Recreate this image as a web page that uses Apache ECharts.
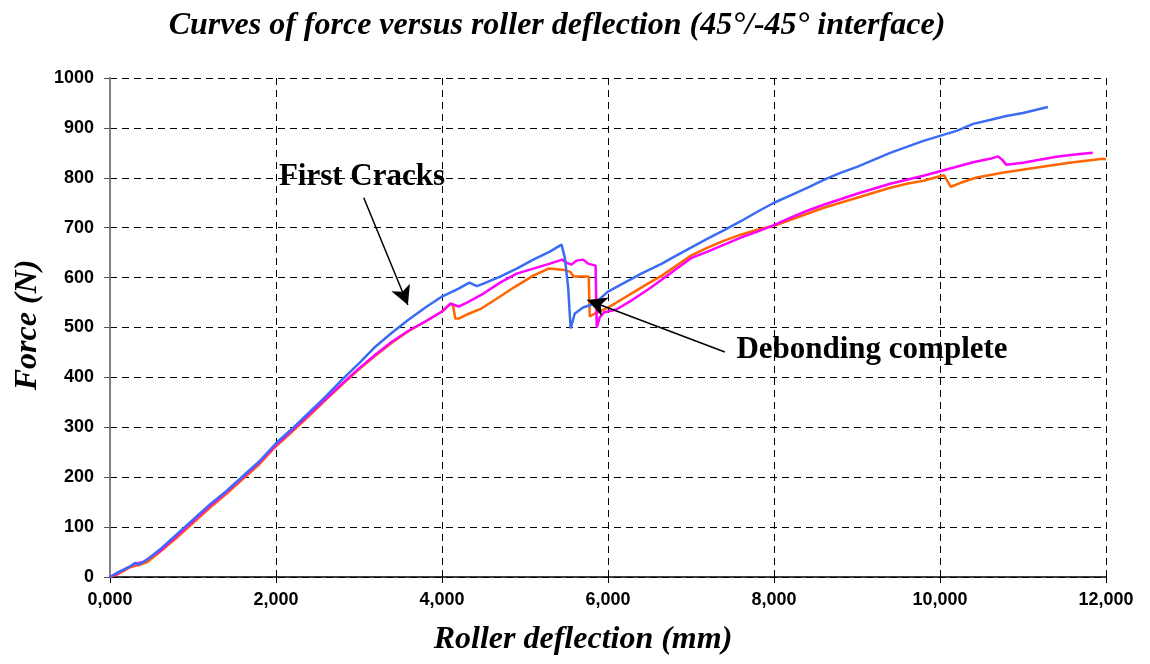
<!DOCTYPE html>
<html>
<head>
<meta charset="utf-8">
<script src="https://cdn.jsdelivr.net/npm/echarts@6/dist/echarts.min.js"></script>
<style>
html,body{margin:0;padding:0;background:#fff;}
#chart{width:1150px;height:664px;}
</style>
</head>
<body>
<div id="chart"></div>
<script>
// ---- data ----
var blueData = [[0,0],[100,10],[250,22],[300,28],[350,25],[450,35],[600,55],[800,85],[1000,115],[1200,145],[1400,172],[1600,202],[1800,232],[2000,268],[2200,298],[2400,330],[2600,362],[2800,396],[3000,428],[3200,462],[3400,490],[3600,516],[3800,540],[4000,562],[4200,578],[4330,590],[4420,583],[4500,588],[4700,602],[4900,618],[5100,636],[5300,652],[5440,666],[5480,640],[5520,580],[5550,498],[5600,528],[5700,540],[5840,548],[6000,572],[6200,590],[6400,608],[6650,628],[6800,642],[7000,660],[7200,678],[7400,695],[7600,713],[7800,732],[8000,750],[8200,765],[8400,780],[8600,796],[8800,810],[9000,822],[9200,836],[9400,850],[9600,862],[9800,874],[10000,884],[10200,894],[10400,908],[10600,916],[10800,924],[11000,930],[11200,938],[11300,942]];
var magentaData = [[0,0],[100,8],[250,22],[300,26],[400,30],[600,52],[800,82],[1000,112],[1200,142],[1400,170],[1600,200],[1800,230],[2000,265],[2200,295],[2400,326],[2600,357],[2800,388],[3000,418],[3200,446],[3400,472],[3600,494],[3800,512],[4000,532],[4100,548],[4200,542],[4300,550],[4500,568],[4700,590],[4900,608],[5100,618],[5300,628],[5450,636],[5500,630],[5560,626],[5620,634],[5700,636],[5760,628],[5850,624],[5865,500],[5900,520],[5950,530],[6100,536],[6300,556],[6500,578],[6650,596],[7000,639],[7200,652],[7400,666],[7600,680],[7800,692],[8000,705],[8200,720],[8400,734],[8600,746],[8800,757],[9000,768],[9200,778],[9400,788],[9600,796],[9800,804],[10000,813],[10200,822],[10400,831],[10600,838],[10700,843],[10750,836],[10800,826],[11000,830],[11200,836],[11400,842],[11600,846],[11840,850]];
var orangeData = [[0,0],[100,6],[250,20],[350,24],[450,30],[600,50],[800,78],[1000,108],[1200,138],[1400,166],[1600,196],[1800,226],[2000,262],[2200,292],[2400,323],[2600,355],[2800,386],[3000,416],[3200,444],[3400,470],[3600,493],[3800,512],[4000,532],[4100,547],[4130,546],[4160,518],[4200,518],[4300,526],[4474,538],[4700,562],[4873,581],[5100,604],[5284,618],[5478,615],[5540,612],[5586,602],[5768,602],[5780,522],[5840,528],[6000,540],[6082,548],[6300,570],[6500,590],[6650,604],[7000,644],[7200,660],[7400,674],[7600,686],[7800,696],[8000,704],[8200,716],[8400,728],[8600,740],[8800,750],[9000,760],[9200,770],[9400,780],[9600,788],[9800,794],[10000,803],[10050,805],[10130,782],[10250,790],[10430,800],[10750,810],[11150,820],[11560,830],[11960,838],[12000,837]];
var xTickLabels = ['0,000','2,000','4,000','6,000','8,000','10,000','12,000'];
var yTickLabels = ['0','100','200','300','400','500','600','700','800','900','1000'];
var titleText = 'Curves of force versus roller deflection (45°/-45° interface)';
var xName = 'Roller deflection (mm)';
var yName = 'Force (N)';
var note1 = 'First Cracks';
var note2 = 'Debonding complete';
var arrow1 = [[3057,760],[3589,545]];
var arrow2 = [[7408,451],[5752,555]];

var chart = echarts.init(document.getElementById('chart'));
var serif = 'Liberation Serif, Times New Roman, serif';
var sans = 'Liberation Sans, Arial, sans-serif';
var gridDash = {color:'#000', width:1, type:[7,5]};

function arrowLine(pts){
  return [{coord:pts[0]},{coord:pts[1]}];
}

chart.setOption({
  animation:false,
  backgroundColor:'#fff',
  grid:{left:110,right:44,top:78,bottom:87,containLabel:false},
  xAxis:{
    type:'value',min:0,max:12000,interval:2000,
    axisLine:{show:true,onZero:false,lineStyle:{color:'#000',width:1.5}},
    axisTick:{show:true,length:6,lineStyle:{color:'#000',width:1}},
    axisLabel:{margin:14,color:'#000',fontFamily:sans,fontWeight:'bold',fontSize:18,
      formatter:function(v){return xTickLabels[Math.round(v/2000)];}},
    splitLine:{show:true,lineStyle:gridDash}
  },
  yAxis:{
    type:'value',min:0,max:1000,interval:100,
    axisLine:{show:true,onZero:false,lineStyle:{color:'#808080',width:2}},
    axisTick:{show:true,length:6,lineStyle:{color:'#555',width:1}},
    axisLabel:{margin:16,color:'#000',fontFamily:sans,fontWeight:'bold',fontSize:18,
      formatter:function(v){return yTickLabels[Math.round(v/100)];}},
    splitLine:{show:true,lineStyle:gridDash}
  },
  series:[
    {type:'line',name:'orange',data:orangeData,showSymbol:false,symbol:'none',
      lineStyle:{color:'#FF6600',width:2.5},z:2},
    {type:'line',name:'magenta',data:magentaData,showSymbol:false,symbol:'none',
      lineStyle:{color:'#FF00FF',width:2.5},z:3},
    {type:'line',name:'blue',data:blueData,showSymbol:false,symbol:'none',
      lineStyle:{color:'#3A6CF4',width:2.5},z:4,
      markLine:{silent:true,symbol:['none','arrow'],symbolSize:[15,19],
        label:{show:false},
        lineStyle:{color:'#000',width:1.5,type:'solid'},
        data:[arrowLine(arrow1),arrowLine(arrow2)]}
    }
  ],
  graphic:[
    {type:'text',x:557,y:26,style:{text:titleText,font:'italic bold 32px '+serif,fill:'#000',textAlign:'center',textVerticalAlign:'middle'}},
    {type:'text',x:583,y:640,style:{text:xName,font:'italic bold 32px '+serif,fill:'#000',textAlign:'center',textVerticalAlign:'middle'}},
    {type:'text',x:28,y:325,rotation:Math.PI/2,style:{text:yName,font:'italic bold 32px '+serif,fill:'#000',textAlign:'center',textVerticalAlign:'middle'}},
    {type:'text',x:362,y:177,style:{text:note1,font:'bold 31px '+serif,fill:'#000',textAlign:'center',textVerticalAlign:'middle'}},
    {type:'text',x:872,y:350,style:{text:note2,font:'bold 31px '+serif,fill:'#000',textAlign:'center',textVerticalAlign:'middle'}}
  ]
});
</script>
</body>
</html>
